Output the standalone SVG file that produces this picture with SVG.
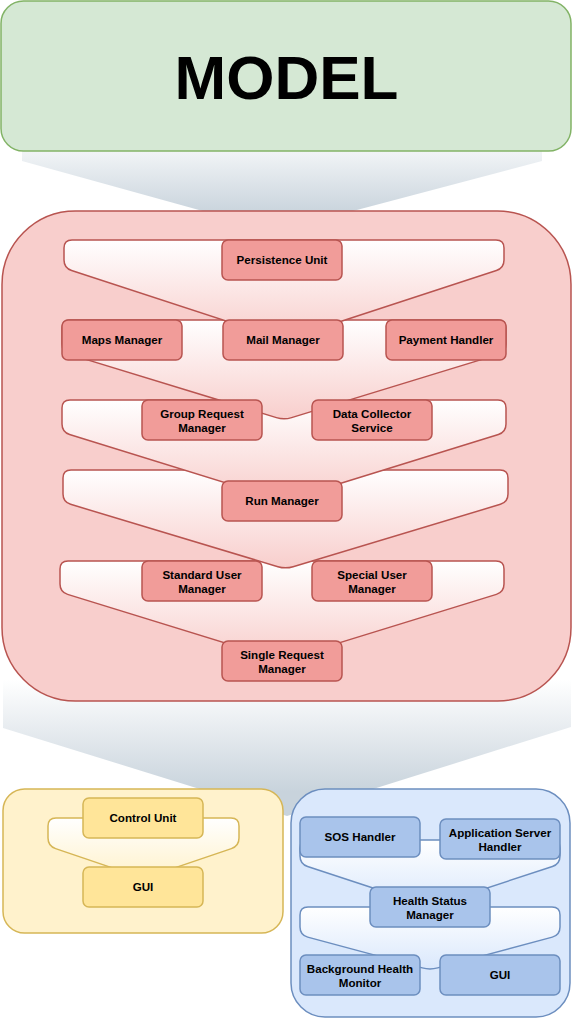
<svg xmlns="http://www.w3.org/2000/svg" width="573" height="1018" viewBox="0 0 573 1018">
<style>
.t{font-family:"Liberation Sans",Arial,Helvetica,sans-serif;font-weight:bold;font-size:11.6px;fill:#000;text-anchor:middle}
.rb{fill:#f19c99;stroke:#b85450;stroke-width:1.5}
.yb{fill:#ffe599;stroke:#d6b656;stroke-width:1.5}
.bb{fill:#a9c4eb;stroke:#6c8ebf;stroke-width:1.5}
.rl{fill:url(#gr);stroke:#b85450;stroke-width:1.5}
.yl{fill:url(#gy);stroke:#d6b656;stroke-width:1.5}
.bl{fill:url(#gb);stroke:#6c8ebf;stroke-width:1.5}
</style>
<defs>
<linearGradient id="gf1" gradientUnits="userSpaceOnUse" x1="0" y1="130" x2="0" y2="215"><stop offset="0" stop-color="#ffffff"/><stop offset="1" stop-color="#c8d3dc"/></linearGradient>
<linearGradient id="gf2" gradientUnits="userSpaceOnUse" x1="0" y1="680" x2="0" y2="792"><stop offset="0" stop-color="#ffffff"/><stop offset="1" stop-color="#c8d3dc"/></linearGradient>
<linearGradient id="gr" x1="0" y1="0" x2="0" y2="1"><stop offset="0" stop-color="#ffffff"/><stop offset="1" stop-color="#f8cecc"/></linearGradient>
<linearGradient id="gy" x1="0" y1="0" x2="0" y2="1"><stop offset="0" stop-color="#ffffff"/><stop offset="1" stop-color="#fff2cc"/></linearGradient>
<linearGradient id="gb" x1="0" y1="0" x2="0" y2="1"><stop offset="0" stop-color="#ffffff"/><stop offset="1" stop-color="#dae8fc"/></linearGradient>
</defs>

<g id="connectors">
<polygon id="funnel1" points="22,130 542,130 542,161 276.4,231.3 22,161" fill="url(#gf1)"/>
<polygon id="funnel2" points="3,670 571,670 571,727 287,816 3,728" fill="url(#gf2)"/>
</g>

<g id="model">
<rect x="1" y="1" width="570" height="150" rx="22.5" fill="#d5e8d4" stroke="#82b366" stroke-width="1.5"/>
<text x="286.5" y="99" font-family="Liberation Sans,Arial,sans-serif" font-weight="bold" font-size="62" text-anchor="middle" fill="#000">MODEL</text>
</g>

<g id="controller">
<rect x="2" y="211" width="569" height="490" rx="73.5" fill="#f8cecc" stroke="#b85450" stroke-width="1.5"/>
</g>

<g id="red-layers">
<path id="layer5" class="rl" d="M 68,561 L 496,561 Q 504,561 504,569 L 504,584 Q 504,592 496.4,594.4 L 289.6,658.1 Q 282,660.5 274.4,658.1 L 67.6,594.4 Q 60,592 60,584 L 60,569 Q 60,561 68,561 Z"/>
<path id="layer4" class="rl" d="M 71,470 L 500,470 Q 508,470 508,478 L 508,494 Q 508,502 500.4,504.3 L 293.1,566.7 Q 285.5,569 277.9,566.7 L 70.6,504.3 Q 63,502 63,494 L 63,478 Q 63,470 71,470 Z"/>
<path id="layer3" class="rl" d="M 70,400 L 498,400 Q 506,400 506,408 L 506,424 Q 506,432 498.4,434.5 L 291.6,498.5 Q 284,501 276.4,498.5 L 69.6,434.5 Q 62,432 62,424 L 62,408 Q 62,400 70,400 Z"/>
<path id="layer2" class="rl" d="M 70,320 L 498,320 Q 506,320 506,328 L 506,344 Q 506,352 498.4,354.4 L 291.6,417.6 Q 284,420 276.4,417.6 L 69.6,354.4 Q 62,352 62,344 L 62,328 Q 62,320 70,320 Z"/>
<path id="layer1" class="rl" d="M 72,240 L 496,240 Q 504,240 504,248 L 504,260 Q 504,268 496.4,270.5 L 291.6,337.5 Q 284,340 276.4,337.5 L 71.6,270.5 Q 64,268 64,260 L 64,248 Q 64,240 72,240 Z"/>
</g>

<g id="persistence-unit"><rect class="rb" x="222" y="240" width="120" height="40" rx="6"/><text class="t" x="282" y="264">Persistence Unit</text></g>
<g id="maps-manager"><rect class="rb" x="62" y="320" width="120" height="40" rx="6"/><text class="t" x="122" y="344">Maps Manager</text></g>
<g id="mail-manager"><rect class="rb" x="223" y="320" width="120" height="40" rx="6"/><text class="t" x="283" y="344">Mail Manager</text></g>
<g id="payment-handler"><rect class="rb" x="386" y="320" width="120" height="40" rx="6"/><text class="t" x="446" y="344">Payment Handler</text></g>
<g id="group-request-manager"><rect class="rb" x="142" y="400" width="120" height="40" rx="6"/><text class="t" x="202" y="418">Group Request</text><text class="t" x="202" y="431.5">Manager</text></g>
<g id="data-collector-service"><rect class="rb" x="312" y="400" width="120" height="40" rx="6"/><text class="t" x="372" y="418">Data Collector</text><text class="t" x="372" y="431.5">Service</text></g>
<g id="run-manager"><rect class="rb" x="222" y="481" width="120" height="40" rx="6"/><text class="t" x="282" y="505">Run Manager</text></g>
<g id="standard-user-manager"><rect class="rb" x="142" y="561" width="120" height="40" rx="6"/><text class="t" x="202" y="579">Standard User</text><text class="t" x="202" y="592.5">Manager</text></g>
<g id="special-user-manager"><rect class="rb" x="312" y="561" width="120" height="40" rx="6"/><text class="t" x="372" y="579">Special User</text><text class="t" x="372" y="592.5">Manager</text></g>
<g id="single-request-manager"><rect class="rb" x="222" y="641" width="120" height="40" rx="6"/><text class="t" x="282" y="659">Single Request</text><text class="t" x="282" y="672.5">Manager</text></g>

<g id="yellow-container">
<rect x="3" y="789" width="280" height="144" rx="21.6" fill="#fff2cc" stroke="#d6b656" stroke-width="1.5"/>
<path id="ylayer1" class="yl" d="M 56,818 L 231,818 Q 239,818 239,826 L 239,838 Q 239,846 231.4,848.6 L 151.1,875.9 Q 143.5,878.5 135.9,875.9 L 55.6,848.6 Q 48,846 48,838 L 48,826 Q 48,818 56,818 Z"/>
</g>
<g id="control-unit"><rect class="yb" x="83" y="798" width="120" height="40" rx="6"/><text class="t" x="143" y="822">Control Unit</text></g>
<g id="gui-yellow"><rect class="yb" x="83" y="867" width="120" height="40" rx="6"/><text class="t" x="143" y="891">GUI</text></g>

<g id="blue-container">
<rect x="291" y="789" width="279" height="228" rx="34" fill="#dae8fc" stroke="#6c8ebf" stroke-width="1.5"/>
<path id="blayer2" class="bl" d="M 308,907 L 552,907 Q 560,907 560,915 L 560,927 Q 560,935 552.3,937.1 L 437.7,967.9 Q 430,970 422.3,967.9 L 307.7,937.1 Q 300,935 300,927 L 300,915 Q 300,907 308,907 Z"/>
<path id="blayer1" class="bl" d="M 308,840 L 552,840 Q 560,840 560,848 L 560,856 Q 560,864 552.4,866.5 L 437.6,904.2 Q 430,906.7 422.4,904.2 L 307.6,866.5 Q 300,864 300,856 L 300,848 Q 300,840 308,840 Z"/>
</g>
<g id="sos-handler"><rect class="bb" x="300" y="817" width="120" height="40" rx="6"/><text class="t" x="360" y="841">SOS Handler</text></g>
<g id="application-server-handler"><rect class="bb" x="440" y="819" width="120" height="40" rx="6"/><text class="t" x="500" y="837">Application Server</text><text class="t" x="500" y="850.5">Handler</text></g>
<g id="health-status-manager"><rect class="bb" x="370" y="887" width="120" height="40" rx="6"/><text class="t" x="430" y="905">Health Status</text><text class="t" x="430" y="918.5">Manager</text></g>
<g id="background-health-monitor"><rect class="bb" x="300" y="955" width="120" height="40" rx="6"/><text class="t" x="360" y="973">Background Health</text><text class="t" x="360" y="986.5">Monitor</text></g>
<g id="gui-blue"><rect class="bb" x="440" y="955" width="120" height="40" rx="6"/><text class="t" x="500" y="979">GUI</text></g>
</svg>
